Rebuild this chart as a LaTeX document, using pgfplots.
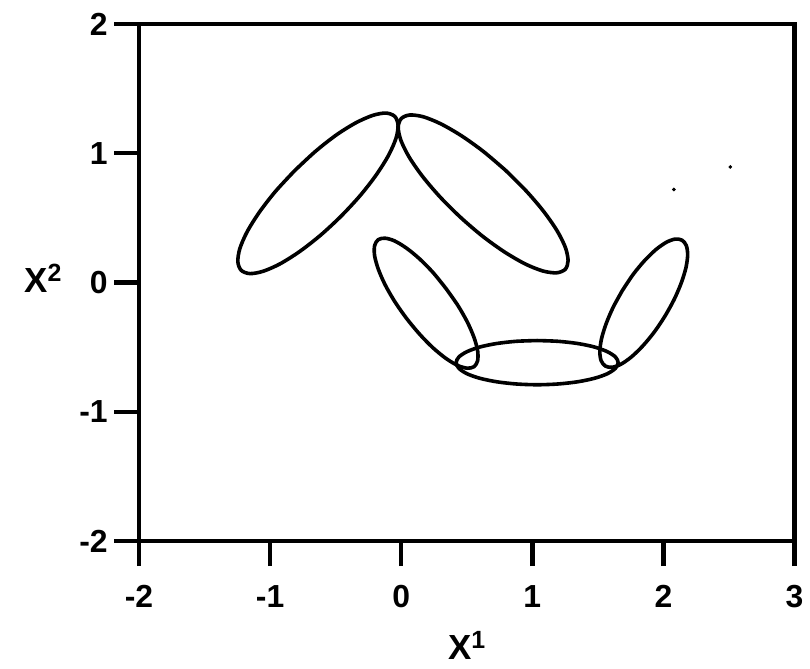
\documentclass[border=0pt]{standalone}
\usepackage{fontspec}
\setmainfont{Liberation Sans}
\usepackage{pgfplots}
\pgfplotsset{compat=1.18}

\begin{document}
\begin{tikzpicture}
\begin{axis}[
  scale only axis,
  width=327.75bp, height=258.5bp,
  xmin=-2, xmax=3, ymin=-2, ymax=2,
  xtick={-2,-1,0,1,2,3}, xticklabels={-2,-1,0,1,2,3},
  ytick={-2,-1,0,1,2}, yticklabels={-2,-1,0,1,2},
  tick pos=left,
  tick align=outside,
  major tick length=12.5bp,
  every tick/.style={black, line width=2.2bp},
  axis line style={black, line width=2.4bp},
  xticklabel style={font=\fontsize{16}{16}\selectfont\bfseries, inner sep=0pt,
    anchor=north, yshift=-9.5bp},
  yticklabel style={font=\fontsize{16}{16}\selectfont\bfseries, inner sep=0pt,
    anchor=east, xshift=-3bp},
  every axis x label/.style={at={(axis description cs:0.5,0)}, anchor=base,
    inner sep=0pt, yshift=-59bp, font=\fontsize{17.5}{17.5}\selectfont\bfseries},
  every axis y label/.style={at={(axis description cs:0,0.5)}, anchor=base east,
    inner sep=0pt, xshift=-38.5bp, yshift=-4.9bp, font=\fontsize{17.5}{17.5}\selectfont\bfseries},
  xlabel={X\raisebox{5.3bp}{\fontsize{12.5}{12.5}\selectfont 1}},
  ylabel={X\raisebox{5.3bp}{\fontsize{12.5}{12.5}\selectfont 2}},
]
% upper left loop
\addplot[black, line width=1.8bp, smooth] coordinates {
  (-0.813,0.865) (-0.959,0.705) (-1.082,0.544) (-1.175,0.393) (-1.231,0.262)
  (-1.246,0.160) (-1.220,0.094) (-1.154,0.069) (-1.053,0.087) (-0.923,0.145)
  (-0.773,0.241) (-0.614,0.367) (-0.457,0.515) (-0.311,0.675) (-0.188,0.836)
  (-0.095,0.987) (-0.039,1.118) (-0.024,1.220) (-0.050,1.286) (-0.116,1.311)
  (-0.217,1.293) (-0.347,1.235) (-0.497,1.140) (-0.656,1.013) (-0.813,0.865)};
% upper right loop
\addplot[black, line width=1.8bp, smooth] coordinates {
  (0.796,0.868) (0.628,1.013) (0.460,1.135) (0.303,1.227) (0.169,1.282)
  (0.065,1.296) (0.000,1.268) (-0.023,1.201) (-0.002,1.099) (0.062,0.968)
  (0.165,0.818) (0.299,0.659) (0.455,0.502) (0.622,0.357) (0.790,0.235)
  (0.947,0.143) (1.081,0.089) (1.185,0.075) (1.251,0.102) (1.273,0.169)
  (1.252,0.272) (1.188,0.402) (1.085,0.552) (0.951,0.711) (0.796,0.868)};
% middle left loop
\addplot[black, line width=1.8bp, smooth] coordinates {
  (0.342,-0.047) (0.243,0.077) (0.139,0.184) (0.039,0.267) (-0.051,0.322)
  (-0.124,0.343) (-0.176,0.331) (-0.203,0.285) (-0.203,0.208) (-0.176,0.107)
  (-0.125,-0.013) (-0.052,-0.143) (0.038,-0.274) (0.138,-0.397) (0.241,-0.504)
  (0.341,-0.587) (0.431,-0.642) (0.504,-0.663) (0.556,-0.651) (0.583,-0.605)
  (0.583,-0.528) (0.556,-0.427) (0.505,-0.307) (0.432,-0.177) (0.342,-0.047)};
% right loop
\addplot[black, line width=1.8bp, smooth] coordinates {
  (1.687,-0.062) (1.617,-0.191) (1.563,-0.319) (1.528,-0.435) (1.515,-0.533)
  (1.525,-0.605) (1.558,-0.647) (1.610,-0.656) (1.678,-0.631) (1.758,-0.574)
  (1.845,-0.488) (1.932,-0.381) (2.013,-0.258) (2.083,-0.129) (2.137,-0.001)
  (2.172,0.115) (2.185,0.213) (2.175,0.285) (2.143,0.327) (2.090,0.336)
  (2.022,0.311) (1.942,0.254) (1.855,0.168) (1.768,0.061) (1.687,-0.062)};
% bottom loop
\addplot[black, line width=1.8bp, smooth] coordinates {
  (1.037,-0.449) (0.877,-0.455) (0.728,-0.472) (0.600,-0.499) (0.502,-0.535)
  (0.440,-0.576) (0.419,-0.620) (0.440,-0.664) (0.502,-0.706) (0.600,-0.741)
  (0.728,-0.768) (0.877,-0.785) (1.037,-0.791) (1.197,-0.785) (1.346,-0.768)
  (1.474,-0.741) (1.572,-0.706) (1.634,-0.664) (1.655,-0.620) (1.634,-0.576)
  (1.572,-0.535) (1.474,-0.499) (1.346,-0.472) (1.197,-0.455) (1.037,-0.449)};
% stray specks
\addplot[only marks, mark=*, mark size=0.7bp, black] coordinates {(2.08,0.72) (2.51,0.894)};
\end{axis}
\path ([xshift=-69.5bp,yshift=-63.5bp]current axis.south west)
  rectangle ([xshift=7.75bp,yshift=12bp]current axis.north east);
\end{tikzpicture}
\end{document}
